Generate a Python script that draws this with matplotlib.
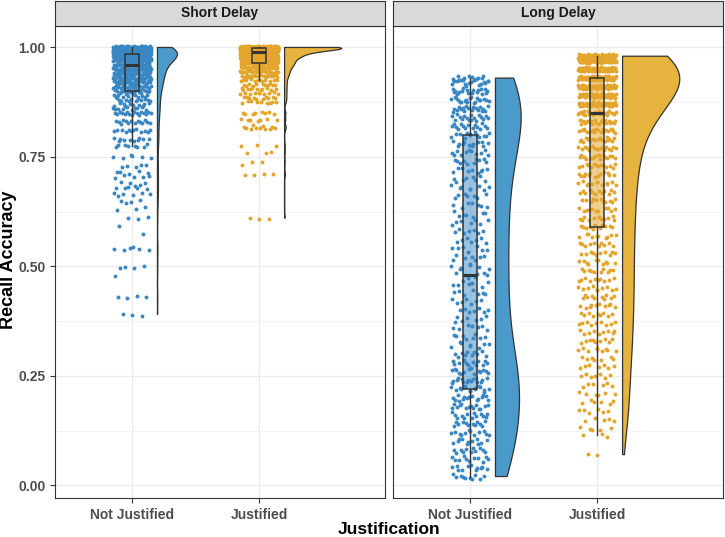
import numpy as np
import matplotlib
matplotlib.use('Agg')
import matplotlib.pyplot as plt
from matplotlib.patches import Rectangle, Polygon

plt.rcParams['font.family'] = ['Liberation Sans', 'DejaVu Sans']

delays = ['Short Delay', 'Long Delay']
conditions = ['Not Justified', 'Justified']
y_ticks = [0.00, 0.25, 0.50, 0.75, 1.00]

# recall accuracy levels and how many observations sit at each level
short_nj_values = [0.39, 0.43, 0.475, 0.50, 0.54, 0.575, 0.59, 0.61, 0.63, 0.64, 0.65,
                   0.665, 0.68, 0.69, 0.705, 0.715, 0.73, 0.75, 0.775, 0.79, 0.81, 0.83,
                   0.85, 0.86, 0.87, 0.88, 0.89, 0.90, 0.91, 0.92, 0.93, 0.94, 0.95,
                   0.96, 0.97, 0.975, 0.98, 0.985, 0.99, 0.995, 1.00]
short_nj_counts = [3, 4, 1, 4, 6, 1, 1, 3, 2, 2, 3,
                   6, 6, 4, 5, 5, 5, 6, 8, 10, 12, 14,
                   16, 10, 10, 12, 12, 18, 20, 24, 28, 32, 36,
                   36, 42, 40, 50, 55, 60, 55, 50]

short_j_values = [0.61, 0.71, 0.73, 0.74, 0.76, 0.775, 0.815, 0.82, 0.835, 0.85, 0.875,
                  0.885, 0.895, 0.905, 0.915, 0.925, 0.935, 0.945, 0.955, 0.965, 0.975,
                  0.98, 0.985, 0.99, 0.995, 0.998, 1.00]
short_j_counts = [3, 4, 1, 2, 3, 3, 7, 4, 7, 8, 9,
                  10, 10, 11, 11, 12, 20, 25, 35, 50, 45,
                  40, 40, 80, 60, 95, 195]

long_nj_values = [0.02, 0.04, 0.06, 0.08, 0.10, 0.12, 0.14, 0.16, 0.18, 0.20,
                  0.22, 0.24, 0.26, 0.28, 0.30, 0.32, 0.34, 0.36, 0.38, 0.40,
                  0.42, 0.44, 0.46, 0.48, 0.50, 0.52, 0.54, 0.56, 0.58, 0.60,
                  0.62, 0.64, 0.66, 0.68, 0.70, 0.72, 0.74, 0.76, 0.78, 0.80,
                  0.82, 0.84, 0.86, 0.88, 0.90, 0.92, 0.93]
long_nj_counts = [10, 11, 11, 11, 11, 12, 12, 13, 14, 15,
                  15, 15, 14, 12, 10, 8, 8, 7, 7, 7,
                  7, 7, 7, 7, 7, 7, 7, 7, 7, 7,
                  7, 7, 7, 8, 8, 9, 10, 11, 12, 13,
                  15, 17, 18, 19, 18, 16, 12]

long_j_values = [0.07, 0.115, 0.13, 0.15, 0.17, 0.19, 0.21, 0.23, 0.25, 0.27, 0.29,
                 0.31, 0.33, 0.35, 0.37, 0.39, 0.41, 0.43, 0.45, 0.47, 0.49,
                 0.51, 0.53, 0.55, 0.57, 0.59, 0.61, 0.63, 0.65, 0.67, 0.69,
                 0.71, 0.73, 0.75, 0.77, 0.79, 0.81, 0.83, 0.85, 0.87, 0.89,
                 0.91, 0.93, 0.95, 0.97, 0.98]
long_j_counts = [2, 3, 5, 5, 6, 6, 6, 6, 7, 7, 7,
                 9, 9, 9, 9, 9, 10, 10, 10, 10, 10,
                 10, 10, 10, 10, 11, 11, 11, 11, 12, 12,
                 13, 14, 15, 16, 18, 20, 22, 25, 45, 50,
                 52, 58, 70, 70, 55]

data = {
    ('Short Delay', 'Not Justified'): (short_nj_values, short_nj_counts),
    ('Short Delay', 'Justified'): (short_j_values, short_j_counts),
    ('Long Delay', 'Not Justified'): (long_nj_values, long_nj_counts),
    ('Long Delay', 'Justified'): (long_j_values, long_j_counts),
}
# vertical jitter half-height per group (points only)
jitter_h = {
    ('Short Delay', 'Not Justified'): 0.004,
    ('Short Delay', 'Justified'): 0.0025,
    ('Long Delay', 'Not Justified'): 0.007,
    ('Long Delay', 'Justified'): 0.005,
}

point_colors = {'Not Justified': '#3A88C3', 'Justified': '#E3A52B'}
violin_colors = {'Not Justified': '#4C9ACA', 'Justified': '#E6B43E'}
line_col = '#333333'


def halton(n, base):
    out = np.zeros(n)
    for i in range(n):
        f, r, k = 1.0, 0.0, i + 1
        while k > 0:
            f /= base
            r += f * (k % base)
            k //= base
        out[i] = r
    return out


def nrd0(x):
    sd = np.std(x, ddof=1)
    q75, q25 = np.percentile(x, [75, 25])
    lo = min(sd, (q75 - q25) / 1.34)
    if lo == 0:
        lo = sd
    return 0.9 * lo * len(x) ** -0.2


def density(x, grid):
    bw = nrd0(x)
    d = np.exp(-0.5 * ((grid[:, None] - x[None, :]) / bw) ** 2).sum(axis=1)
    return d / (len(x) * bw * np.sqrt(2 * np.pi))


W, H = 725, 537
panel_lefts = [55, 393]
panel_w = 330
top, bottom = 26, 498
xlim = (0.394, 2.99)
ylim = (-0.029, 1.049)

fig = plt.figure(figsize=(W / 100, H / 100), dpi=100)

for k, delay in enumerate(delays):
    pl = panel_lefts[k]
    ax = fig.add_axes([pl / W, (H - bottom) / H, panel_w / W, (bottom - top) / H])
    ax.set_xlim(xlim)
    ax.set_ylim(ylim)

    # densities first so the violins of one panel share a scale
    dens = {}
    for cond in conditions:
        vals, cnts = data[(delay, cond)]
        y = np.repeat(np.array(vals), cnts)
        grid = np.linspace(y.min(), y.max(), 512)
        dens[cond] = (y, grid, density(y, grid))
    dmax = max(d[2].max() for d in dens.values())

    for i, cond in enumerate(conditions):
        xc = i + 1
        y, grid, d = dens[cond]

        # half violin, nudged right
        x0 = xc + 0.2
        xr = x0 + d / dmax * 0.45
        verts = np.column_stack([np.concatenate([np.full(len(grid), x0), xr[::-1]]),
                                 np.concatenate([grid, grid[::-1]])])
        ax.add_patch(Polygon(verts, closed=True, facecolor=violin_colors[cond],
                             edgecolor=line_col, lw=0.9, zorder=2))

        # jittered points, spread evenly over the jitter box
        n = len(y)
        dx = (halton(n, 2) * 2 - 1) * 0.15
        dy = (halton(n, 3) * 2 - 1) * jitter_h[(delay, cond)]
        ax.scatter(xc + dx, y + dy, s=8, color=point_colors[cond], lw=0, zorder=3)

        # boxplot
        q1, med, q3 = np.percentile(y, [25, 50, 75])
        iqr = q3 - q1
        lo = y[y >= q1 - 1.5 * iqr].min()
        hi = y[y <= q3 + 1.5 * iqr].max()
        bw = 0.055
        ax.plot([xc, xc], [hi, q3], color=line_col, lw=1.0, zorder=4)
        ax.plot([xc, xc], [lo, q1], color=line_col, lw=1.0, zorder=4)
        ax.add_patch(Rectangle((xc - bw, q1), 2 * bw, q3 - q1,
                               facecolor=point_colors[cond], alpha=0.5, lw=0, zorder=4))
        ax.add_patch(Rectangle((xc - bw, q1), 2 * bw, q3 - q1, facecolor='none',
                               edgecolor=line_col, lw=1.1, zorder=5))
        ax.plot([xc - bw, xc + bw], [med, med], color=line_col, lw=2.2,
                solid_capstyle='butt', zorder=5)

    ax.set_yticks(y_ticks)
    ax.set_yticks([0.125, 0.375, 0.625, 0.875], minor=True)
    ax.set_xticks([1, 2])
    ax.grid(True, which='major', color='#EBEBEB', lw=0.9)
    ax.grid(True, which='minor', axis='y', color='#F1F1F1', lw=0.6)
    ax.set_axisbelow(True)
    ax.tick_params(which='minor', length=0)
    ax.tick_params(which='major', color=line_col, length=3.5, width=0.8,
                   labelsize=10, labelcolor='#4D4D4D')
    ax.set_xticklabels(conditions, fontweight='bold')
    if k == 0:
        ax.set_yticklabels(['%.2f' % t for t in y_ticks], fontweight='bold')
    else:
        ax.tick_params(axis='y', left=False, labelleft=False)
    for s in ax.spines.values():
        s.set_color(line_col)
        s.set_linewidth(0.8)

    # facet strip
    sax = fig.add_axes([pl / W, (H - top) / H, panel_w / W, (top - 1) / H])
    sax.set_facecolor('#D9D9D9')
    sax.set_xticks([])
    sax.set_yticks([])
    for s in sax.spines.values():
        s.set_color(line_col)
        s.set_linewidth(0.8)
    sax.text(0.5, 0.5, delay, ha='center', va='center', fontsize=10,
             fontweight='bold', color='#1A1A1A', transform=sax.transAxes)

fig.text(9 / W, (H - 260) / H, 'Recall Accuracy', rotation=90,
         ha='center', va='center', fontsize=13, fontweight='bold')
fig.text(389 / W, (H - 529) / H, 'Justification', ha='center', va='center',
         fontsize=12.5, fontweight='bold')

fig.savefig('out.png', dpi=100)
